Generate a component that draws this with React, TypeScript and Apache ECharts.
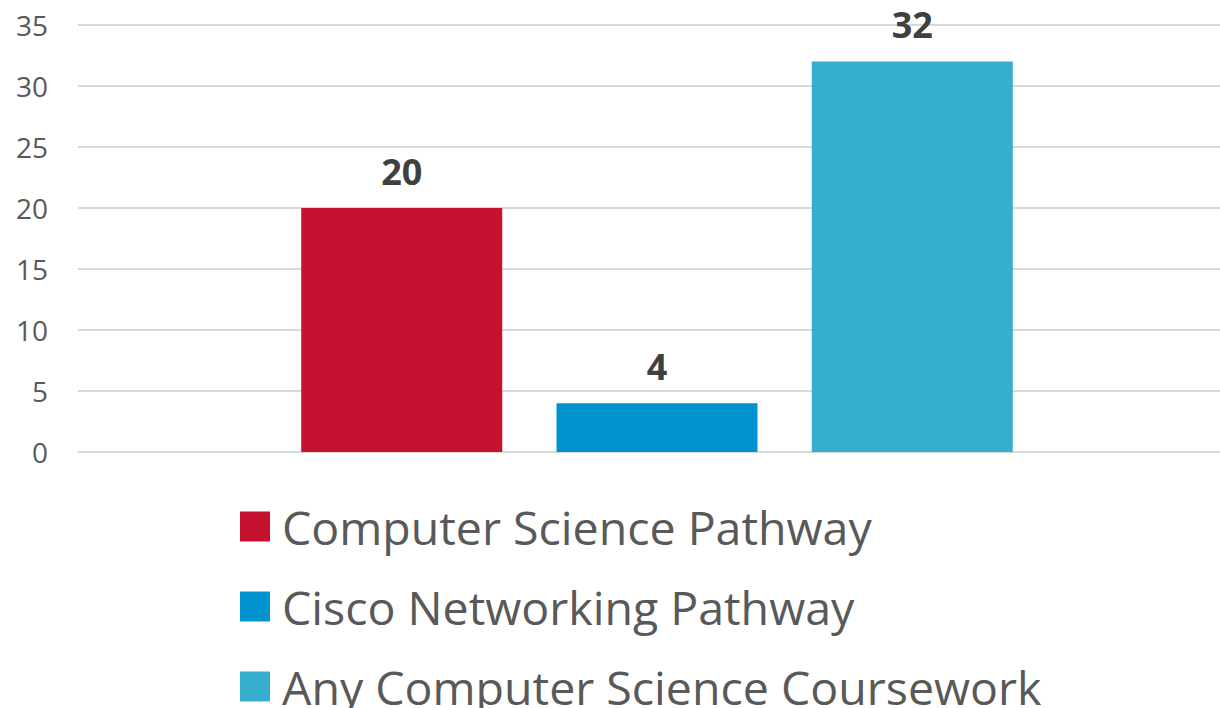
import React, { useEffect, useRef } from "react";
import * as echarts from "echarts";

const seriesNames = ["Computer Science Pathway", "Cisco Networking Pathway", "Any Computer Science Coursework"];
const seriesValues = [20, 4, 32];
const seriesColors = ["#C41230", "#0093D0", "#36AECE"];
const categories = [""];
const legendTops = [498, 578, 658];

export default function App() {
  const ref = useRef<HTMLDivElement>(null);
  useEffect(() => {
    document.body.style.margin = "0";
    document.body.style.overflow = "hidden";
    const chart = echarts.init(ref.current!, null, { renderer: "svg" });
    chart.setOption({
      animation: false,
      textStyle: { fontFamily: "Open Sans" },
      grid: { left: 78, right: 14, top: 25, height: 427, containLabel: false },
      legend: seriesNames.map((name, i) => ({
        orient: "vertical",
        left: 235,
        top: legendTops[i],
        itemWidth: 30,
        itemHeight: 30,
        icon: "rect",
        textStyle: { fontSize: 46.5, color: "#595959", fontFamily: "Open Sans", padding: [0, 0, 0, 7], lineHeight: 44 },
        data: [name],
      })),
      xAxis: {
        type: "category",
        data: categories,
        axisLine: { show: false },
        axisTick: { show: false },
        axisLabel: { show: false },
      },
      yAxis: {
        type: "value",
        min: 0,
        max: 35,
        interval: 5,
        axisLine: { show: false },
        axisTick: { show: false },
        axisLabel: { fontSize: 28, color: "#595959", margin: 30, fontFamily: "Open Sans" },
        splitLine: { lineStyle: { color: "#D9D9D9", width: 2 } },
      },
      series: seriesNames.map((name, i) => ({
        name,
        type: "bar",
        barWidth: 201,
        barGap: "27%",
        data: [seriesValues[i]],
        itemStyle: { color: seriesColors[i] },
        label: {
          show: true,
          position: "top",
          distance: 19,
          fontSize: 36,
          fontWeight: "bold",
          color: "#404040",
          fontFamily: "Open Sans",
        },
      })),
    });
    return () => chart.dispose();
  }, []);
  return (
    <div style={{ position: "absolute", left: 0, top: 0, width: 1220, height: 708, overflow: "hidden" }}>
      <div ref={ref} style={{ width: 1250, height: 708 }} />
    </div>
  );
}
